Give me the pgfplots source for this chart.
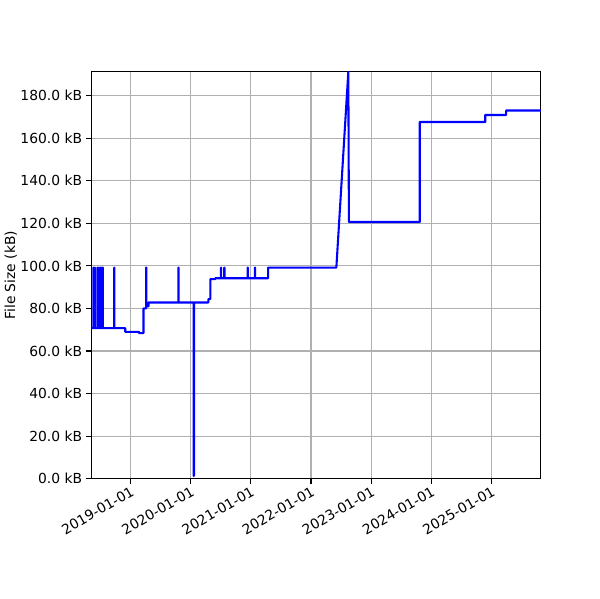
\documentclass[border=0pt]{standalone}
\usepackage{fontspec}
\setmainfont{DejaVu Sans}
\usepackage{pgfplots}
\pgfplotsset{compat=1.18}
\definecolor{gridgray}{RGB}{176,176,176}
\begin{document}
\begin{tikzpicture}
\begin{axis}[
  scale only axis,
  width=324.5pt, height=293.8pt,
  xmin=0.349, xmax=7.820,
  ymin=0, ymax=191.2,
  xtick={1,2,3,4,5,6,7},
  xticklabels={2019-01-01,2020-01-01,2021-01-01,2022-01-01,2023-01-01,2024-01-01,2025-01-01},
  ytick={0,20,...,180},
  scaled y ticks=false,
  yticklabel={\pgfmathprintnumber[fixed,fixed zerofill,precision=1]{\tick}~kB},
  /pgf/number format/assume math mode=true,
  xticklabel style={rotate=30, anchor=north east, inner sep=1pt},
  yticklabel style={inner sep=1pt, xshift=-2pt},
  tick pos=left,
  tick align=outside,
  major tick length=3.5pt,
  tick style={black, line width=0.8pt},
  axis line style={line width=0.8pt},
  grid=major,
  major grid style={gridgray, line width=0.8pt},
  ylabel={File Size (kB)},
  ylabel style={yshift=-2pt},
  every tick label/.append style={font=\fontsize{10}{12}\selectfont},
  label style={font=\fontsize{10}{12}\selectfont},
]
\addplot[blue, line width=1.5pt, line join=round] coordinates {
(0.349,70.8)
(0.3817,70.8)(0.3817,99.2)(0.3857,99.2)(0.3857,70.8)
(0.4066,70.8)(0.4066,99.2)(0.4086,99.2)(0.4086,70.8)
(0.4480,70.8)(0.4480,99.2)(0.4500,99.2)(0.4500,70.8)
(0.4729,70.8)(0.4729,99.2)(0.4749,99.2)(0.4749,70.8)
(0.4978,70.8)(0.4978,99.2)(0.4998,99.2)(0.4998,70.8)
(0.5226,70.8)(0.5226,99.2)(0.5246,99.2)(0.5246,70.8)
(0.5392,70.8)(0.5392,99.2)(0.5412,99.2)(0.5412,70.8)
(0.7298,70.8)(0.7298,99.2)(0.7318,99.2)(0.7318,70.8)
(0.9121,70.8)(0.9121,69.0)(1.1442,69.0)(1.1442,68.4)(1.2155,68.4)(1.2155,80.0)
(1.2602,80.0)(1.2602,99.2)(1.2642,99.2)(1.2642,81.0)(1.2984,81.0)(1.2984,82.8)
(1.7956,82.8)(1.7956,99.2)(1.7996,99.2)(1.7996,82.8)
(2.0509,82.8)(2.0509,1.3)(2.0549,1.3)(2.0549,82.8)
(2.2929,82.8)(2.2929,84.4)(2.3260,84.4)(2.3260,93.8)(2.4089,93.8)(2.4089,94.2)
(2.5034,94.2)(2.5034,99.2)(2.5074,99.2)(2.5074,94.2)
(2.5581,94.2)(2.5581,99.2)(2.5621,99.2)(2.5621,94.2)
(2.9460,94.2)(2.9460,99.2)(2.9500,99.2)(2.9500,94.2)
(3.0670,94.2)(3.0670,99.2)(3.0710,99.2)(3.0710,94.2)
(3.2874,94.2)(3.2874,99.2)(4.4212,99.2)(4.6201,191.2)(4.6300,120.6)
(5.8069,120.6)(5.8069,167.6)(6.8960,167.6)(6.8960,170.9)(7.2441,170.9)(7.2441,173.0)(7.8192,173.0)
};
\coordinate (O) at (rel axis cs:0,0);
\end{axis}
\path (O) ++(-64.8pt,-86.4pt) rectangle ++(432pt,432pt);
\end{tikzpicture}
\end{document}
